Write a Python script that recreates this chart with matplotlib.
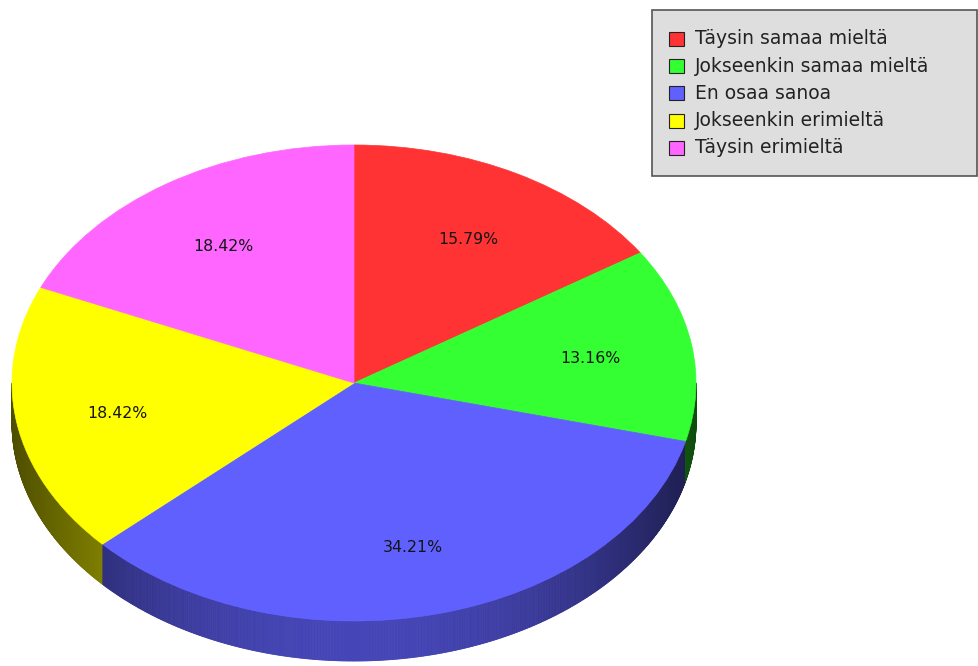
import matplotlib
matplotlib.use("Agg")
import matplotlib.pyplot as plt
import numpy as np
from matplotlib.patches import Wedge, Rectangle
from matplotlib.collections import PolyCollection
from matplotlib.colors import to_rgb

# Survey answers (counts out of 38 respondents)
LABELS = [
    "Täysin samaa mieltä",
    "Jokseenkin samaa mieltä",
    "En osaa sanoa",
    "Jokseenkin erimieltä",
    "Täysin erimieltä",
]
COUNTS = [6, 5, 13, 7, 7]
COLORS = ["#ff3333", "#33ff33", "#6060ff", "#ffff00", "#ff66ff"]

W, H = 979, 666
CX, CY = 354, 383        # pie centre, pixels
RX, RY = 342, 238        # ellipse radii, pixels
DEPTH = 40 / RY          # side thickness in unit-circle coordinates

fig = plt.figure(figsize=(W / 100, H / 100), dpi=100)
ax = fig.add_axes([0, 0, 1, 1])
# unit circle -> ellipse on screen
ax.set_xlim(-CX / RX, (W - CX) / RX)
ax.set_ylim(-(H - CY) / RY, CY / RY)
ax.set_aspect("auto")
ax.axis("off")

total = sum(COUNTS)
fracs = np.array(COUNTS) / total
ends = 90 - 360 * np.cumsum(fracs)
starts = np.concatenate([[90], ends[:-1]])
cum = np.cumsum(fracs) * 360

# side wall of the pie (front half only), shaded darker toward the rim ends
steps = np.linspace(180, 360, 721)
polys, cols = [], []
for a1, a2 in zip(steps[:-1], steps[1:]):
    am = 0.5 * (a1 + a2)
    pos = (90 - am) % 360          # clockwise distance from 12 o'clock
    idx = min(int(np.searchsorted(cum, pos, side="right")), len(COUNTS) - 1)
    shade = 0.3 + 0.42 * np.sin(np.radians(am)) ** 2
    c = np.array(to_rgb(COLORS[idx])) * shade
    t1, t2 = np.radians(a1), np.radians(a2)
    polys.append([
        (np.cos(t1), np.sin(t1)), (np.cos(t2), np.sin(t2)),
        (np.cos(t2), np.sin(t2) - DEPTH), (np.cos(t1), np.sin(t1) - DEPTH),
    ])
    cols.append(c)
side = PolyCollection(polys, facecolors=cols, edgecolors=cols, linewidths=0.6)
ax.add_collection(side)

# top face
for s, e, col in zip(starts, ends, COLORS):
    ax.add_patch(Wedge((0, 0), 1, e, s, facecolor=col, edgecolor=col, linewidth=0.5))

# percentage labels
for s, e, f in zip(starts, ends, fracs):
    mid = np.radians(0.5 * (s + e))
    ax.text(0.7 * np.cos(mid), 0.7 * np.sin(mid) - 0.012, f"{f * 100:.2f}%",
            ha="center", va="center", fontsize=11.3, color="#151515")

# legend box, drawn in figure pixel space
pix = fig.transFigure
def fx(x):
    return x / W

def fy(y):
    return 1 - y / H

fig.patches.append(Rectangle((fx(652), fy(176)), fx(977) - fx(652), fy(10) - fy(176),
                             transform=pix, facecolor="#dedede", edgecolor="#555555",
                             linewidth=1.2))
for i, (lab, col) in enumerate(zip(LABELS, COLORS)):
    yc = 39 + i * 27.2
    fig.patches.append(Rectangle((fx(669), fy(yc + 7)), fx(684) - fx(669), fy(yc - 7) - fy(yc + 7),
                                 transform=pix, facecolor=col, edgecolor="#222222",
                                 linewidth=0.8))
    fig.text(fx(695), fy(yc), lab, ha="left", va="center", fontsize=13.5,
             color="#222222")

fig.savefig("out.png", dpi=100, facecolor="white")
